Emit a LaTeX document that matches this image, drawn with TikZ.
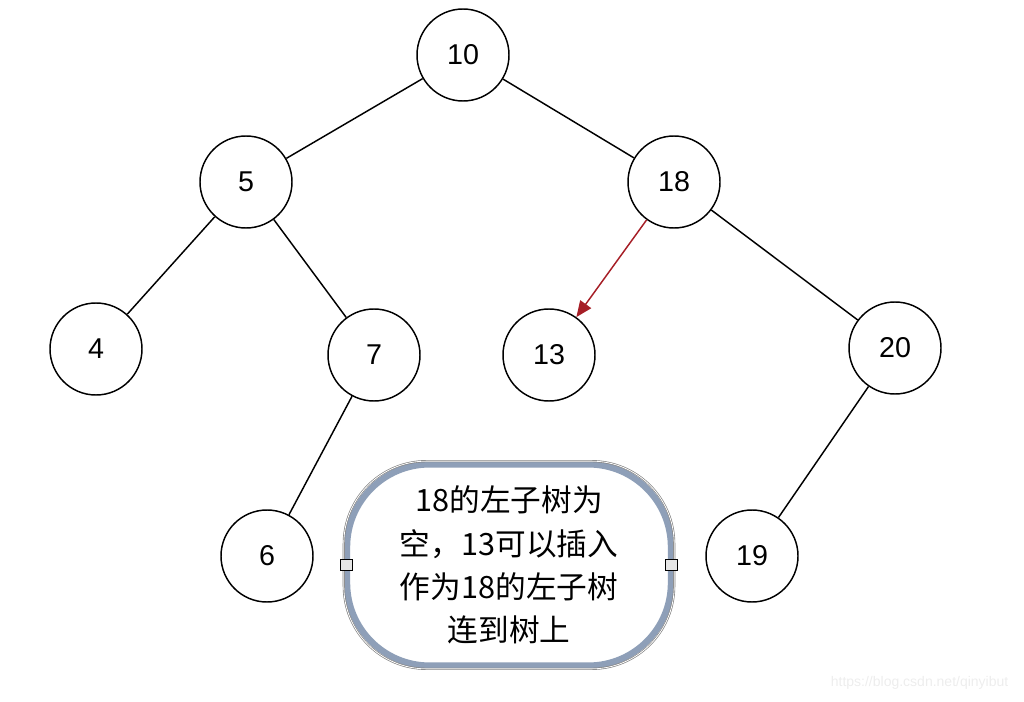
\documentclass[tikz,border=0pt]{standalone}
\usepackage{fontspec}
\setmainfont{Liberation Sans}
\newfontfamily\cjk{Noto Sans CJK SC}
\usetikzlibrary{arrows.meta}
\definecolor{arrowred}{HTML}{A61E26}
\definecolor{slate}{HTML}{8E9FB8}
\definecolor{handlegray}{HTML}{E6E6E6}
\definecolor{wmgray}{HTML}{EDEDED}
\tikzset{
  treenode/.style={circle, draw=black, line width=1.1pt, fill=white, minimum size=69pt, inner sep=0pt, font=\fontsize{21.5}{24}\selectfont},
  edge/.style={draw=black, line width=1.1pt},
  redarrow/.style={draw=arrowred, line width=1.1pt, -{Triangle[length=12pt,width=10pt]}},
  handle/.style={draw=black, line width=0.9pt, fill=handlegray, minimum size=8.5pt, inner sep=0pt},
}
\begin{document}
\begin{tikzpicture}[x=0.75pt,y=-0.75pt]
\useasboundingbox (0,0) rectangle (1024,702);
\node[treenode] (n10) at (463,55) {10};
\node[treenode] (n5) at (246,182) {5};
\node[treenode] (n18) at (674,182) {18};
\node[treenode] (n4) at (96,349) {4};
\node[treenode] (n7) at (374,355) {7};
\node[treenode] (n13) at (549,355) {13};
\node[treenode] (n20) at (895,348) {20};
\node[treenode] (n6) at (267,556) {6};
\node[treenode] (n19) at (752,556) {19};
\draw[edge] (n10) -- (n5);
\draw[edge] (n10) -- (n18);
\draw[edge] (n5) -- (n4);
\draw[edge] (n5) -- (n7);
\draw[edge] (n7) -- (n6);
\draw[edge] (n18) -- (n20);
\draw[edge] (n20) -- (n19);
\draw[redarrow] (n18) -- (n13);
% callout
\node[draw=slate, line width=4.8pt, rounded corners=62pt, minimum width=243pt, minimum height=151pt, inner sep=0pt, fill=white] (box) at (509,565) {};
\draw[gray, line width=0.5pt, double=white, double distance=0.6pt, rounded corners=62pt] (box.north west) rectangle (box.south east);
\node[align=center, font=\cjk\fontsize{23}{32.5}\selectfont] (txt) at (509,565) {18的左子树为\\空，13可以插入\\作为18的左子树\\连到树上};
\node[handle] (hl) at ([xshift=2pt]box.west) {};
\node[handle] (hr) at ([xshift=-2pt]box.east) {};
\node[text=wmgray, font=\fontsize{10.5}{12}\selectfont, anchor=east] (wm) at (1013,683) {https://blog.csdn.net/qinyibut};
\end{tikzpicture}
\end{document}
